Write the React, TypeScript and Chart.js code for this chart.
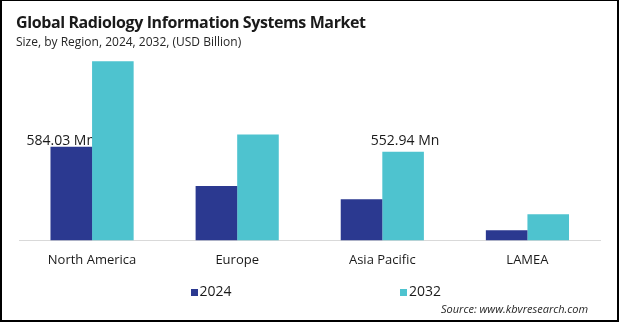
import { useEffect, useRef } from "react";
import { Chart, registerables } from "chart.js";

Chart.register(...registerables);

const categories = ["North America", "Europe", "Asia Pacific", "LAMEA"];
const seriesNames = ["2024", "2032"];
const values2024 = [584.03, 339, 257, 63];
const values2032 = [1118, 660, 552.94, 163];
const seriesColors = ["#2B3990", "#4EC3CF"];
const yMax = 1200;

const titleText = "Global Radiology Information Systems Market";
const subtitleText = "Size, by Region, 2024, 2032, (USD Billion)";
const sourceText = "Source: www.kbvresearch.com";
const labelUnit = " Mn";
// which bars carry a value label (dataset index, category index)
const labelledBars = [
  { dataset: 0, index: 0 },
  { dataset: 1, index: 2 },
];

const FONT = "'Open Sans', 'Noto Sans', sans-serif";

// per-label nudges to match the reference placement
const labelNudges = [
  { dx: -10.5, dy: -2 },
  { dx: 2, dy: -7 },
];

const valueLabelPlugin = {
  id: "valueLabels",
  beforeDatasetsDraw(chart: any) {
    const ctx = chart.ctx;
    ctx.save();
    ctx.font = `14px ${FONT}`;
    ctx.fillStyle = "#1a1a1a";
    ctx.textAlign = "center";
    ctx.textBaseline = "alphabetic";
    labelledBars.forEach((lb, k) => {
      const meta = chart.getDatasetMeta(lb.dataset);
      const bar = meta.data[lb.index];
      const v = chart.data.datasets[lb.dataset].data[lb.index];
      const n = labelNudges[k] || { dx: 0, dy: -4 };
      ctx.fillText(`${v}${labelUnit}`, bar.x + n.dx, bar.y + n.dy);
    });
    ctx.restore();
  },
};

export default function App() {
  const ref = useRef<HTMLCanvasElement | null>(null);

  useEffect(() => {
    if (!ref.current) return;
    const chart = new Chart(ref.current, {
      type: "bar",
      data: {
        labels: categories,
        datasets: [
          {
            label: seriesNames[0],
            data: values2024,
            backgroundColor: seriesColors[0],
            categoryPercentage: 0.573,
            barPercentage: 1,
          },
          {
            label: seriesNames[1],
            data: values2032,
            backgroundColor: seriesColors[1],
            categoryPercentage: 0.573,
            barPercentage: 1,
          },
        ],
      },
      options: {
        animation: false,
        responsive: false,
        maintainAspectRatio: false,
        layout: { padding: { left: 19.5, right: 19, top: 48, bottom: 42 } },
        plugins: {
          legend: { display: false },
          title: { display: false },
          tooltip: { enabled: false },
        },
        scales: {
          x: {
            grid: { display: false, drawTicks: false },
            border: { display: true, color: "#d9d9d9", width: 1 },
            ticks: { font: { family: FONT, size: 13 }, color: "#1a1a1a", padding: 12 },
          },
          y: { display: false, min: 0, max: yMax },
        },
      },
      plugins: [valueLabelPlugin],
    });
    return () => chart.destroy();
  }, []);

  const text = (extra: any) => ({
    position: "absolute" as const,
    fontFamily: FONT,
    lineHeight: 1,
    whiteSpace: "nowrap" as const,
    margin: 0,
    ...extra,
  });

  return (
    <div
      style={{
        position: "absolute",
        left: 0,
        top: 0,
        width: 619,
        height: 322,
        background: "#fff",
        overflow: "hidden",
      }}
    >
      <canvas ref={ref} width={619} height={322} style={{ position: "absolute", left: 0, top: 0 }} />
      <div style={text({ left: 16, top: 13.8, fontSize: 16, fontWeight: 700, letterSpacing: "-0.4px", color: "#1a1a1a" })}>
        {titleText}
      </div>
      <div style={text({ left: 16, top: 35.5, fontSize: 12, color: "#262626" })}>{subtitleText}</div>
      {seriesNames.map((name, i) => (
        <div key={name} style={text({ left: 190.5 + i * 209.5, top: 283.5, fontSize: 14, color: "#1a1a1a" })}>
          <span
            style={{
              display: "inline-block",
              width: 7,
              height: 7,
              background: seriesColors[i],
              marginRight: 2,
              verticalAlign: "baseline",
            }}
          />
          {name}
        </div>
      ))}
      <div style={text({ left: 441, top: 303.2, fontSize: 11, fontStyle: "italic", color: "#262626" })}>
        {sourceText}
      </div>
      <div
        style={{
          position: "absolute",
          left: 0,
          top: 0,
          width: 619,
          height: 322,
          boxSizing: "border-box",
          borderStyle: "solid",
          borderColor: "#000",
          borderWidth: "1px 2px 2px 2px",
          pointerEvents: "none",
        }}
      />
    </div>
  );
}
